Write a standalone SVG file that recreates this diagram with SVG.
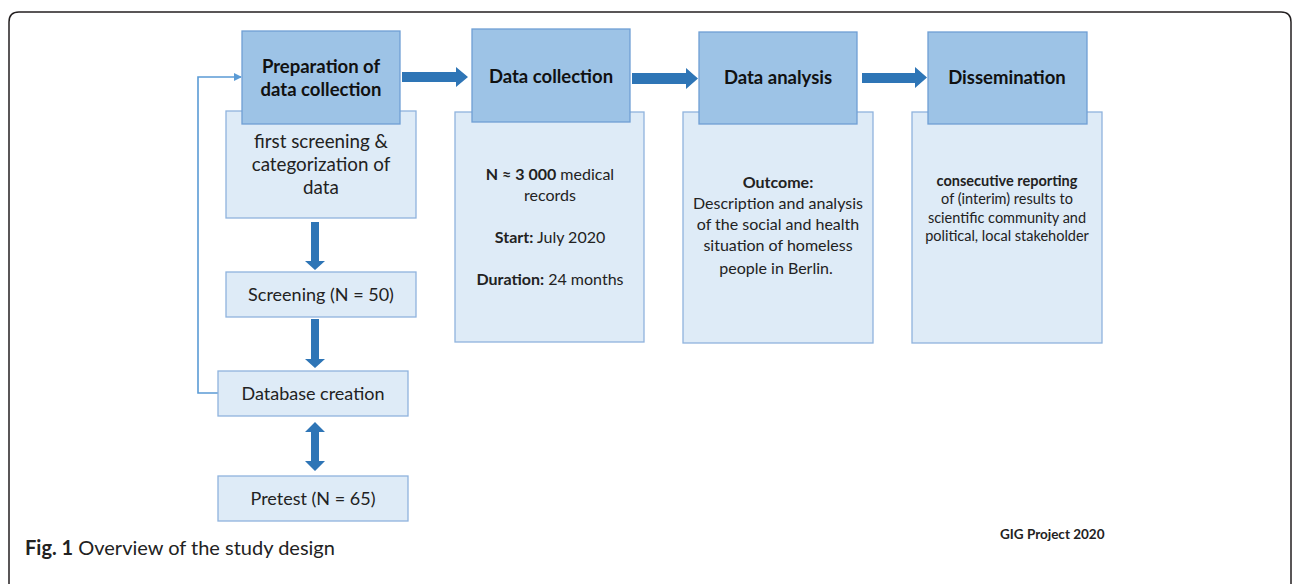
<svg xmlns="http://www.w3.org/2000/svg" width="1292" height="584" viewBox="0 0 1292 584">
<style>
.hdr{fill:#9dc3e6;stroke:#6f9fd5;stroke-width:1.3}
.body{fill:#deebf7;stroke:#8fb3de;stroke-width:1.3}
.ht{font-family:Lato,"Liberation Sans",sans-serif;font-weight:bold;font-size:18.5px;fill:#111;text-anchor:middle}
.bt{font-family:Lato,"Liberation Sans",sans-serif;font-size:18px;fill:#222;text-anchor:middle}
.pt{font-family:Lato,"Liberation Sans",sans-serif;font-size:18.8px;fill:#222;text-anchor:middle}
.st{font-family:Lato,"Liberation Sans",sans-serif;font-size:16px;fill:#222;text-anchor:middle}
.dt{font-family:Lato,"Liberation Sans",sans-serif;font-size:14.5px;fill:#222;text-anchor:middle}
.b{font-weight:bold}
.arr{fill:#2e75b6}
</style>
<defs>
<marker id="fb" viewBox="0 0 8 8" refX="7" refY="4" markerWidth="8" markerHeight="8" markerUnits="userSpaceOnUse" orient="auto">
<path d="M0,0 L8,4 L0,8 Z" fill="#5b9bd5"/>
</marker>
</defs>
<rect width="1292" height="584" fill="#fff"/>
<path d="M9,584 V22 Q9,12 19,12 H1281 Q1291,12 1291,22 V584" fill="none" stroke="#231f20" stroke-width="1.5"/>

<g id="connectors">
<path class="arr" d="M402,72 H456 V67 L468,77 L456,87 V82 H402 Z"/>
<path class="arr" d="M632,73 H686 V68 L698,78.5 L686,89 V84 H632 Z"/>
<path class="arr" d="M862,73 H915 V67 L927,77.5 L915,88 V83 H862 Z"/>
<path class="arr" d="M311,222 H319 V261 H325 L315,270 L305,261 H311 Z"/>
<path class="arr" d="M311,319 H319 V359 H325 L315,368 L305,359 H311 Z"/>
<path class="arr" d="M315,422 L325,432 H319 V461 H325 L315,471 L305,461 H311 V432 H305 Z"/>
<polyline points="218,393 198,393 198,77 241,77" fill="none" stroke="#5b9bd5" stroke-width="1.6" marker-end="url(#fb)"/>
</g>

<g id="prep">
<rect class="body" x="226" y="111" width="190" height="107"/>
<rect class="hdr" x="242" y="31" width="158" height="93"/>
<text class="ht" x="321" y="73">Preparation of</text>
<text class="ht" x="321" y="96">data collection</text>
<text class="pt" x="321" y="148">first screening &amp;</text>
<text class="pt" x="321" y="171">categorization of</text>
<text class="pt" x="321" y="194">data</text>
</g>

<g id="collection">
<rect class="body" x="455" y="112" width="189" height="230"/>
<rect class="hdr" x="472" y="29" width="158" height="93"/>
<text class="ht" x="551" y="83">Data collection</text>
<text class="st" x="550" y="180"><tspan class="b">N ≈ 3 000</tspan> medical</text>
<text class="st" x="550" y="201">records</text>
<text class="st" x="550" y="243"><tspan class="b">Start:</tspan> July 2020</text>
<text class="st" x="550" y="285"><tspan class="b">Duration:</tspan> 24 months</text>
</g>

<g id="analysis">
<rect class="body" x="683" y="112" width="190" height="231"/>
<rect class="hdr" x="699" y="32" width="158" height="92"/>
<text class="ht" x="778" y="84">Data analysis</text>
<text class="st b" x="778" y="188">Outcome:</text>
<text class="st" x="778" y="209">Description and analysis</text>
<text class="st" x="778" y="230">of the social and health</text>
<text class="st" x="778" y="251">situation of homeless</text>
<text class="st" x="776" y="274">people in Berlin.</text>
</g>

<g id="dissemination">
<rect class="body" x="912" y="112" width="190" height="231"/>
<rect class="hdr" x="928" y="32" width="159" height="92"/>
<text class="ht" x="1007" y="84">Dissemination</text>
<text class="dt b" x="1007" y="186">consecutive reporting</text>
<text class="dt" x="1007" y="204">of (interim) results to</text>
<text class="dt" x="1007" y="223">scientific community and</text>
<text class="dt" x="1007" y="241">political, local stakeholder</text>
</g>

<g id="screening">
<rect class="body" x="226" y="272" width="190" height="45"/>
<text class="bt" x="321" y="301">Screening (N = 50)</text>
</g>

<g id="database">
<rect class="body" x="218" y="371" width="190" height="45"/>
<text class="bt" x="313" y="400">Database creation</text>
</g>

<g id="pretest">
<rect class="body" x="218" y="476" width="190" height="45"/>
<text class="bt" x="313" y="505">Pretest (N = 65)</text>
</g>

<text x="1000" y="539" font-family="Lato,'Liberation Sans',sans-serif" font-weight="bold" font-size="13.5" fill="#222">GIG Project 2020</text>
<text x="25" y="555" font-family="Lato,'Liberation Sans',sans-serif" font-size="20" fill="#222"><tspan font-weight="bold">Fig. 1</tspan> Overview of the study design</text>
</svg>
